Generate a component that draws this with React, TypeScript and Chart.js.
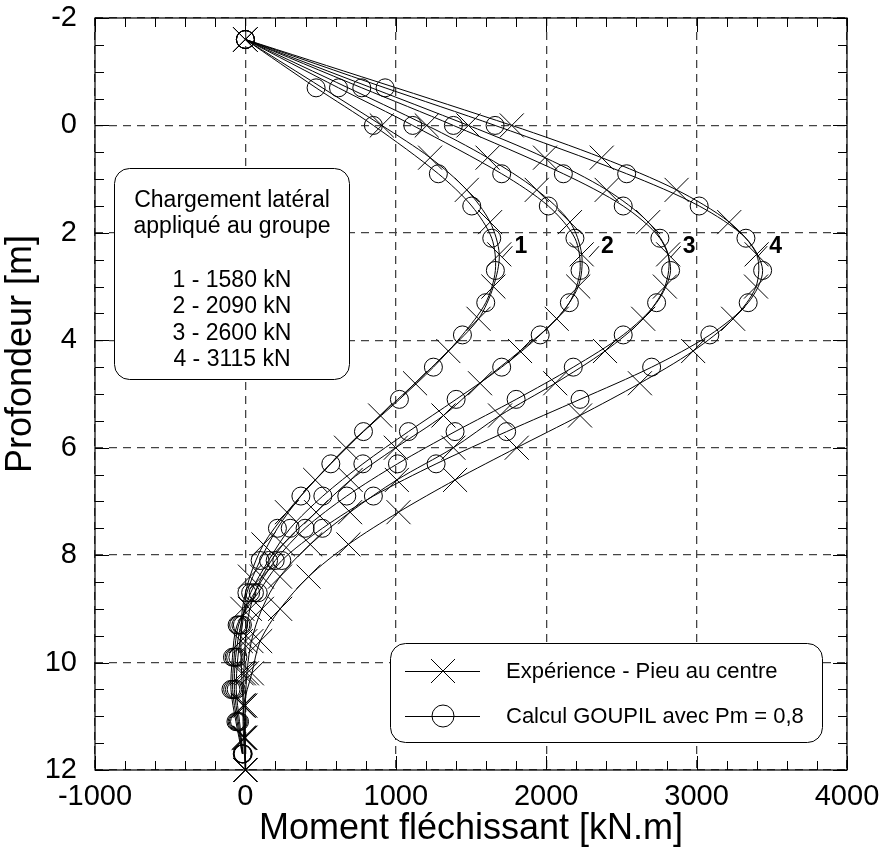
import React, { useEffect, useRef } from 'react';
import { Chart, registerables } from 'chart.js';

Chart.register(...registerables);

// ---------- data ----------
const depthCalc = [-1.6, -0.7, 0, 0.9, 1.5, 2.1, 2.7, 3.3, 3.9, 4.5, 5.1, 5.7, 6.3, 6.9, 7.5, 8.1, 8.7, 9.3, 9.9, 10.5, 11.1, 11.7];
const depthExp = [-1.6, 0, 0.6, 1.2, 1.8, 2.4, 3.0, 3.6, 4.2, 4.8, 5.4, 6.0, 6.6, 7.2, 7.8, 8.4, 9.0, 9.6, 10.2, 10.8, 11.4, 12.0];

const calc1 = [0, 470, 851, 1283, 1505, 1638, 1662, 1598, 1443, 1250, 1024, 785, 568, 369, 213, 98, 10, -20, -50, -61, -39, -15];
const calc2 = [0, 619, 1113, 1704, 2014, 2191, 2225, 2154, 1960, 1704, 1401, 1084, 781, 515, 298, 154, 35, -30, -65, -73, -47, -17];
const calc3 = [0, 774, 1383, 2114, 2512, 2756, 2827, 2734, 2512, 2180, 1800, 1394, 1011, 674, 397, 198, 60, -45, -75, -85, -55, -19];
const calc4 = [0, 929, 1660, 2535, 3017, 3328, 3439, 3343, 3088, 2701, 2225, 1737, 1268, 851, 512, 242, 85, -55, -86, -96, -63, -21];

const exp1 = [0, 907, 1228, 1472, 1627, 1688, 1649, 1550, 1349, 1128, 896, 669, 464, 276, 120, 30, -20, -30, -25, -15, -5, 0];
const exp2 = [0, 1206, 1610, 1937, 2158, 2236, 2213, 2070, 1826, 1560, 1317, 1000, 700, 470, 250, 110, 30, 0, -10, -10, -5, 0];
const exp3 = [0, 1483, 1992, 2402, 2678, 2811, 2789, 2645, 2391, 2060, 1693, 1383, 1007, 696, 431, 230, 110, 40, 10, 0, 0, 0];
const exp4 = [0, 1771, 2369, 2867, 3217, 3399, 3395, 3243, 2977, 2623, 2225, 1804, 1394, 1018, 685, 420, 231, 98, 43, -12, -12, 0];

const curveNumbers = ['1', '2', '3', '4'];
const curveNumberX = [1815, 2391, 2934, 3509];
const curveNumberY = 2.23;

const boxTitle = ['Chargement latéral', 'appliqué au groupe'];
const loadLabels = ['1 - 1580 kN', '2 - 2090 kN', '3 - 2600 kN', '4 - 3115 kN'];
const legendLabels = ['Expérience - Pieu au centre', 'Calcul GOUPIL avec Pm = 0,8'];

const xTickValues = [-1000, 0, 1000, 2000, 3000, 4000];
const yTickValues = [-2, 0, 2, 4, 6, 8, 10, 12];
const xTitle = 'Moment fléchissant [kN.m]';
const yTitle = 'Profondeur [m]';

const FONT = '"Liberation Sans", Arial, Helvetica, sans-serif';

function pts(xs: number[], ys: number[]) {
  return xs.map((x, i) => ({ x, y: ys[i] }));
}

function roundRect(ctx: CanvasRenderingContext2D, x: number, y: number, w: number, h: number, r: number) {
  ctx.beginPath();
  ctx.moveTo(x + r, y);
  ctx.lineTo(x + w - r, y);
  ctx.arcTo(x + w, y, x + w, y + r, r);
  ctx.lineTo(x + w, y + h - r);
  ctx.arcTo(x + w, y + h, x + w - r, y + h, r);
  ctx.lineTo(x + r, y + h);
  ctx.arcTo(x, y + h, x, y + h - r, r);
  ctx.lineTo(x, y + r);
  ctx.arcTo(x, y, x + r, y, r);
  ctx.closePath();
}

const decorPlugin = {
  id: 'decor',
  afterDraw(chart: any) {
    const ctx: CanvasRenderingContext2D = chart.ctx;
    const xs = chart.scales.x;
    const ys = chart.scales.y;
    const a = chart.chartArea;
    ctx.save();
    ctx.strokeStyle = '#000';
    ctx.lineWidth = 1.2;
    ctx.setLineDash([]);
    ctx.strokeRect(a.left, a.top, a.right - a.left, a.bottom - a.top);
    ctx.lineWidth = 1;
    ctx.beginPath();
    for (let v = -1000; v <= 4000; v += 200) {
      const px = Math.round(xs.getPixelForValue(v)) + 0.5;
      const len = v % 1000 === 0 ? 14 : 9;
      ctx.moveTo(px, a.bottom); ctx.lineTo(px, a.bottom - len);
      ctx.moveTo(px, a.top); ctx.lineTo(px, a.top + len);
    }
    for (let v = -2; v <= 12; v += 0.5) {
      const py = Math.round(ys.getPixelForValue(v)) + 0.5;
      const len = Math.abs(v % 2) < 1e-9 ? 14 : 9;
      ctx.moveTo(a.left, py); ctx.lineTo(a.left + len, py);
      ctx.moveTo(a.right, py); ctx.lineTo(a.right - len, py);
    }
    ctx.stroke();

    ctx.fillStyle = '#000';
    ctx.font = `36px ${FONT}`;
    ctx.textAlign = 'center';
    ctx.textBaseline = 'middle';
    ctx.save();
    ctx.translate(21, 354);
    ctx.rotate(-Math.PI / 2);
    ctx.fillText(yTitle, 0, 0);
    ctx.restore();

    ctx.font = `bold 23px ${FONT}`;
    ctx.textAlign = 'left';
    ctx.textBaseline = 'alphabetic';
    curveNumbers.forEach((t, i) => {
      const px = xs.getPixelForValue(curveNumberX[i]);
      const py = ys.getPixelForValue(curveNumberY);
      ctx.fillText(t, px - 4, py + 8);
      ctx.beginPath();
      ctx.lineWidth = 1;
      ctx.moveTo(px - 16, py + 12);
      ctx.lineTo(px - 6, py + 1);
      ctx.stroke();
    });

    ctx.lineWidth = 1;
    roundRect(ctx, 114.5, 168.5, 235, 211, 15);
    ctx.fillStyle = '#fff';
    ctx.fill();
    ctx.strokeStyle = '#000';
    ctx.stroke();
    ctx.fillStyle = '#000';
    ctx.font = `23px ${FONT}`;
    ctx.textAlign = 'center';
    const cx = 232;
    ctx.fillText(boxTitle[0], cx, 206.5);
    ctx.fillText(boxTitle[1], cx, 232.5);
    loadLabels.forEach((t, i) => ctx.fillText(t, cx, 286.5 + i * 26.5));

    roundRect(ctx, 390.5, 643.5, 432, 99, 15);
    ctx.fillStyle = '#fff';
    ctx.fill();
    ctx.stroke();
    const rows = [671, 716];
    ctx.beginPath();
    rows.forEach((ry) => {
      ctx.moveTo(405, ry + 0.5); ctx.lineTo(480, ry + 0.5);
    });
    const h = 12;
    ctx.moveTo(443 - h, 671 - h); ctx.lineTo(443 + h, 671 + h);
    ctx.moveTo(443 - h, 671 + h); ctx.lineTo(443 + h, 671 - h);
    ctx.stroke();
    ctx.beginPath();
    ctx.arc(443, 716, 11, 0, Math.PI * 2);
    ctx.stroke();
    ctx.fillStyle = '#000';
    ctx.font = `22px ${FONT}`;
    ctx.textAlign = 'left';
    ctx.fillText(legendLabels[0], 506, 678);
    ctx.fillText(legendLabels[1], 506, 723);
    ctx.restore();
  },
};

export default function App() {
  const ref = useRef<HTMLCanvasElement>(null);
  useEffect(() => {
    if (!ref.current) return;
    const lineDs = (label: string, xs: number[], ys: number[], exp: boolean) => ({
      label,
      data: pts(xs, ys),
      showLine: true,
      borderColor: '#000',
      borderWidth: 1,
      backgroundColor: 'rgba(0,0,0,0)',
      pointStyle: exp ? 'crossRot' : 'circle',
      pointRadius: exp ? 17 : 9,
      pointHoverRadius: exp ? 17 : 9,
      pointBorderColor: '#000',
      pointBackgroundColor: 'rgba(0,0,0,0)',
      pointBorderWidth: 1,
      tension: 0.3,
      fill: false,
      clip: false,
    });
    const chart = new Chart(ref.current, {
      type: 'scatter',
      data: {
        datasets: [
          lineDs('exp1', exp1, depthExp, true),
          lineDs('exp2', exp2, depthExp, true),
          lineDs('exp3', exp3, depthExp, true),
          lineDs('exp4', exp4, depthExp, true),
          lineDs('calc1', calc1, depthCalc, false),
          lineDs('calc2', calc2, depthCalc, false),
          lineDs('calc3', calc3, depthCalc, false),
          lineDs('calc4', calc4, depthCalc, false),
        ],
      },
      options: {
        responsive: false,
        animation: false,
        devicePixelRatio: 1,
        layout: { padding: { left: 0, right: 32, top: 17, bottom: 0 } },
        plugins: { legend: { display: false }, tooltip: { enabled: false } },
        events: [],
        scales: {
          x: {
            type: 'linear',
            min: -1000,
            max: 4000,
            afterBuildTicks: (s: any) => { s.ticks = xTickValues.map((v) => ({ value: v })); },
            afterFit: (s: any) => { s.height = 83; s.paddingLeft = 0; s.paddingRight = 0; },
            ticks: { color: '#000', font: { family: FONT, size: 29 }, padding: 10, maxRotation: 0, callback: (v: any) => String(v) },
            grid: { color: '#444', lineWidth: 1.3, drawTicks: false },
            border: { display: false, dash: [8, 6] },
            title: { display: true, text: xTitle, color: '#000', font: { family: FONT, size: 36 }, padding: { top: 0, bottom: 2 } },
          },
          y: {
            type: 'linear',
            reverse: true,
            min: -2,
            max: 12,
            afterBuildTicks: (s: any) => { s.ticks = yTickValues.map((v) => ({ value: v })); },
            afterFit: (s: any) => { s.width = 95; s.paddingTop = 0; s.paddingBottom = 0; },
            ticks: { color: '#000', font: { family: FONT, size: 29 }, padding: 18, callback: (v: any) => String(v) },
            grid: { color: '#444', lineWidth: 1.3, drawTicks: false },
            border: { display: false, dash: [8, 6] },
            title: { display: false },
          },
        },
      } as any,
      plugins: [decorPlugin],
    });
    return () => chart.destroy();
  }, []);
  return (
    <div style={{ position: 'fixed', left: 0, top: 0, width: 879, height: 853, background: '#fff' }}>
      <canvas ref={ref} width={879} height={853} style={{ display: 'block', width: 879, height: 853 }} />
    </div>
  );
}
